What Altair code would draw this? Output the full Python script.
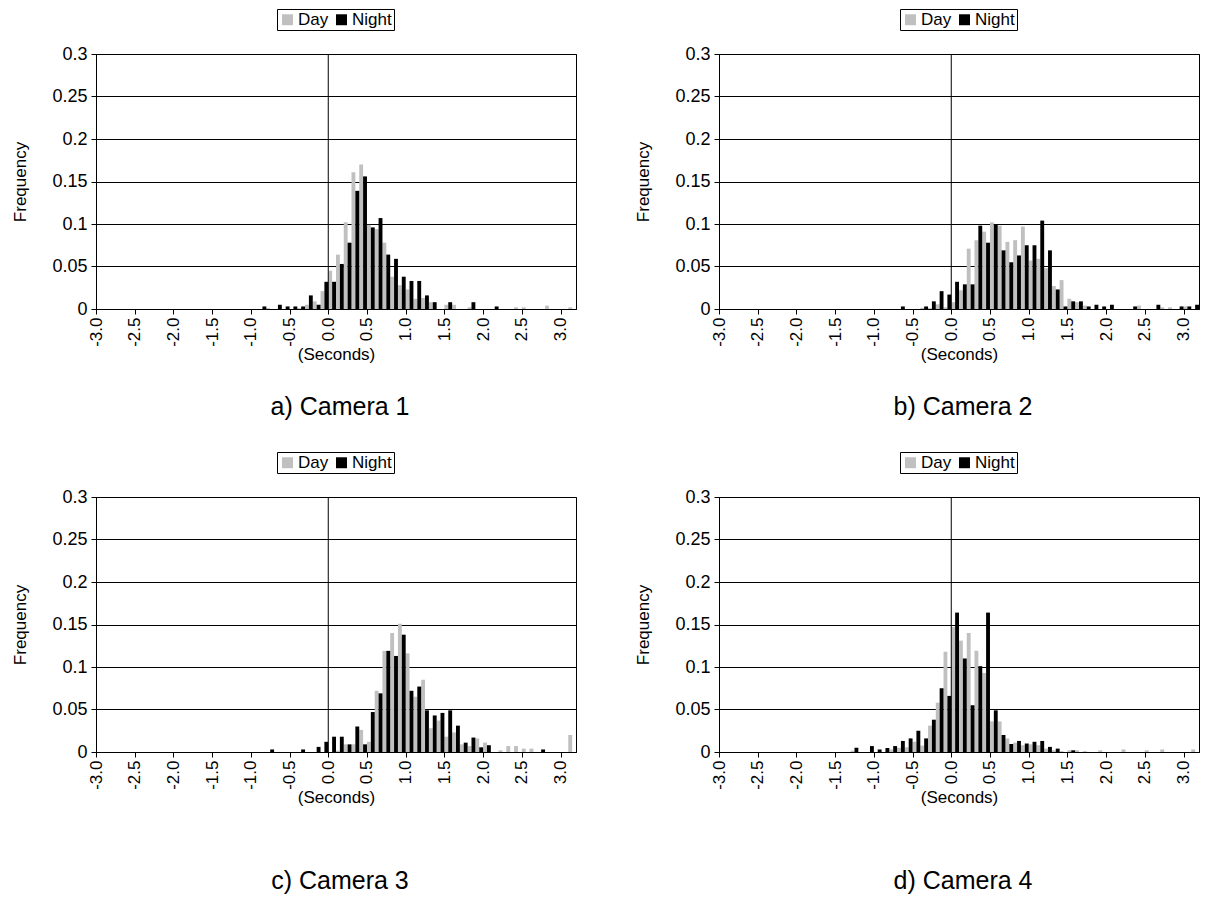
import altair as alt
import pandas as pd

FONT = "Liberation Sans"

# Bin starts (seconds), one bin per 0.1 s
BIN_STARTS = [-3.0, -2.9, -2.8, -2.7, -2.6, -2.5, -2.4, -2.3, -2.2, -2.1,
              -2.0, -1.9, -1.8, -1.7, -1.6, -1.5, -1.4, -1.3, -1.2, -1.1,
              -1.0, -0.9, -0.8, -0.7, -0.6, -0.5, -0.4, -0.3, -0.2, -0.1,
              0.0, 0.1, 0.2, 0.3, 0.4, 0.5, 0.6, 0.7, 0.8, 0.9,
              1.0, 1.1, 1.2, 1.3, 1.4, 1.5, 1.6, 1.7, 1.8, 1.9,
              2.0, 2.1, 2.2, 2.3, 2.4, 2.5, 2.6, 2.7, 2.8, 2.9,
              3.0, 3.1]

X_TICKS = [-3.0, -2.5, -2.0, -1.5, -1.0, -0.5, 0.0, 0.5, 1.0, 1.5, 2.0, 2.5, 3.0]
Y_TICKS = [0, 0.05, 0.1, 0.15, 0.2, 0.25, 0.3]
ZERO_LINE = [0.0]
SERIES = ["Day", "Night"]
SERIES_COLORS = ["#c0c0c0", "#000000"]

# Camera 1
CAM1_DAY = [0, 0, 0, 0, 0, 0, 0, 0, 0, 0,
            0, 0, 0, 0, 0, 0, 0, 0, 0, 0,
            0, 0, 0.001, 0, 0, 0, 0.001, 0.005, 0.009, 0.021,
            0.045, 0.064, 0.102, 0.161, 0.170, 0.099, 0.094, 0.078, 0.038, 0.028,
            0.023, 0.012, 0.013, 0.008, 0, 0.005, 0.005, 0, 0.002, 0,
            0, 0, 0, 0, 0.002, 0.002, 0, 0, 0.004, 0,
            0, 0.002]
CAM1_NIGHT = [0, 0, 0, 0, 0, 0, 0, 0, 0, 0,
              0, 0, 0, 0, 0, 0, 0, 0, 0, 0,
              0, 0.003, 0, 0.005, 0.003, 0.003, 0.003, 0.016, 0.005, 0.032,
              0.032, 0.053, 0.078, 0.139, 0.156, 0.096, 0.107, 0.064, 0.059, 0.038,
              0.033, 0.033, 0.016, 0.008, 0, 0.008, 0, 0, 0.008, 0,
              0, 0.003, 0, 0, 0, 0, 0, 0, 0, 0,
              0, 0]

# Camera 2
CAM2_DAY = [0, 0, 0, 0, 0, 0, 0, 0, 0, 0,
            0, 0, 0, 0, 0, 0, 0, 0, 0, 0,
            0, 0, 0, 0, 0, 0, 0.0015, 0.001, 0.0055, 0.002,
            0.008, 0.022, 0.071, 0.081, 0.091, 0.102, 0.098, 0.079, 0.081, 0.097,
            0.057, 0.059, 0.048, 0.027, 0.034, 0.012, 0.008, 0.004, 0, 0,
            0, 0, 0, 0, 0.004, 0, 0, 0.002, 0.002, 0,
            0.003, 0]
CAM2_NIGHT = [0, 0, 0, 0, 0, 0, 0, 0, 0, 0,
              0, 0, 0, 0, 0, 0, 0, 0, 0, 0,
              0, 0, 0, 0.003, 0, 0, 0.003, 0.009, 0.021, 0.017,
              0.032, 0.029, 0.029, 0.098, 0.078, 0.100, 0.069, 0.055, 0.063, 0.075,
              0.075, 0.104, 0.069, 0.023, 0.003, 0.009, 0.009, 0.003, 0.005, 0.003,
              0.005, 0, 0, 0.003, 0, 0, 0.005, 0, 0, 0.003,
              0.003, 0.005]

# Camera 3
CAM3_DAY = [0, 0, 0, 0, 0, 0, 0, 0, 0, 0,
            0, 0, 0, 0, 0, 0, 0, 0, 0, 0,
            0, 0, 0, 0, 0, 0, 0, 0, 0, 0,
            0, 0.0016, 0.009, 0.009, 0.026, 0.012, 0.072, 0.119, 0.140, 0.151,
            0.116, 0.065, 0.085, 0.028, 0.037, 0.018, 0.023, 0.009, 0.007, 0.016,
            0.011, 0, 0.002, 0.007, 0.007, 0.004, 0.004, 0, 0, 0,
            0, 0.020]
CAM3_NIGHT = [0, 0, 0, 0, 0, 0, 0, 0, 0, 0,
              0, 0, 0, 0, 0, 0, 0, 0, 0, 0,
              0, 0, 0.003, 0, 0, 0, 0.003, 0, 0.006, 0.012,
              0.018, 0.018, 0.009, 0.030, 0.009, 0.047, 0.069, 0.119, 0.113, 0.138,
              0.072, 0.077, 0.049, 0.043, 0.046, 0.049, 0.031, 0.011, 0.017, 0.0055,
              0.008, 0, 0, 0, 0, 0, 0, 0.003, 0, 0,
              0, 0]

# Camera 4
CAM4_DAY = [0, 0, 0, 0, 0, 0, 0, 0, 0, 0,
            0, 0, 0, 0, 0, 0, 0, 0.0015, 0, 0,
            0, 0, 0.003, 0.005, 0.0055, 0.012, 0.0075, 0.031, 0.058, 0.118,
            0.147, 0.131, 0.140, 0.119, 0.093, 0.036, 0.036, 0.016, 0.011, 0.008,
            0.009, 0.008, 0.004, 0.002, 0.001, 0.002, 0.002, 0.001, 0, 0.002,
            0, 0, 0.003, 0, 0, 0.002, 0, 0.003, 0, 0,
            0, 0.003]
CAM4_NIGHT = [0, 0, 0, 0, 0, 0, 0, 0, 0, 0,
              0, 0, 0, 0, 0, 0, 0, 0.005, 0, 0.007,
              0.003, 0.0047, 0.007, 0.013, 0.016, 0.025, 0.016, 0.038, 0.075, 0.066,
              0.164, 0.110, 0.055, 0.101, 0.164, 0.049, 0.020, 0.0094, 0.013, 0.010,
              0.012, 0.013, 0.006, 0.004, 0, 0.002, 0, 0, 0, 0,
              0, 0, 0, 0, 0, 0, 0, 0, 0, 0,
              0, 0]

PANELS = [
    ("a) Camera 1", CAM1_DAY, CAM1_NIGHT),
    ("b) Camera 2", CAM2_DAY, CAM2_NIGHT),
    ("c) Camera 3", CAM3_DAY, CAM3_NIGHT),
    ("d) Camera 4", CAM4_DAY, CAM4_NIGHT),
]

X_SCALE = alt.Scale(domain=[-3.0, 3.2], nice=False, zero=False)
Y_SCALE = alt.Scale(domain=[0, 0.3], nice=False)

X_AXIS = alt.Axis(
    values=X_TICKS, grid=False, title="(Seconds)",
    labelExpr="replace(format(datum.value, '.1f'), '\u2212', '-')",
    labelAngle=-90, labelFontSize=17, titleFontSize=17,
    labelOverlap=False, labelSeparation=0, labelBound=False, labelFlush=False,
    tickSize=5, labelPadding=3, titlePadding=0)
Y_AXIS = alt.Axis(
    values=Y_TICKS, format="~g", grid=True, title="Frequency",
    labelFontSize=18, titleFontSize=17, tickSize=5, labelOverlap=False,
    labelPadding=4, titlePadding=22)


def panel(title, day, night, title_offset):
    df = pd.DataFrame({
        "start": BIN_STARTS + BIN_STARTS,
        "series": ["Day"] * len(BIN_STARTS) + ["Night"] * len(BIN_STARTS),
        "value": day + night,
    })
    bars = alt.Chart(df).transform_calculate(
        x0="datum.start + (datum.series == 'Night' ? 0.05 : 0)",
        x1="datum.start + (datum.series == 'Night' ? 0.1 : 0.05)",
    ).mark_rect().encode(
        x=alt.X("x0:Q", scale=X_SCALE, axis=X_AXIS),
        x2="x1:Q",
        y=alt.Y("value:Q", scale=Y_SCALE, axis=Y_AXIS),
        y2=alt.datum(0),
        color=alt.Color("series:N", scale=alt.Scale(domain=SERIES, range=SERIES_COLORS),
                        legend=alt.Legend(
                            orient="none", legendX=181, legendY=-45,
                            direction="horizontal", title=None,
                            strokeColor="black", fillColor="white", padding=2,
                            symbolType="square", symbolSize=120, symbolStrokeWidth=0,
                            labelFontSize=17, labelFont=FONT, labelOffset=2,
                            columnPadding=4)),
    )
    zero = alt.Chart(pd.DataFrame({"zero": ZERO_LINE})).mark_rule(
        color="black", strokeWidth=1
    ).encode(
        x=alt.X("zero:Q", scale=X_SCALE, axis=X_AXIS)
    )
    return alt.layer(bars, zero).properties(
        width=480, height=255,
        title=alt.TitleParams(title, orient="bottom", anchor="middle", frame="group",
                              fontSize=25, fontWeight="normal", font=FONT, dx=4,
                              color="black", offset=title_offset),
    )


p1 = panel(PANELS[0][0], PANELS[0][1], PANELS[0][2], 33)
p2 = panel(PANELS[1][0], PANELS[1][1], PANELS[1][2], 33)
p3 = panel(PANELS[2][0], PANELS[2][1], PANELS[2][2], 64)
p4 = panel(PANELS[3][0], PANELS[3][1], PANELS[3][2], 64)

row1 = alt.hconcat(p1, p2, spacing=57).resolve_scale(color="independent").resolve_legend(color="independent")
row2 = alt.hconcat(p3, p4, spacing=57).resolve_scale(color="independent").resolve_legend(color="independent")

chart = alt.vconcat(row1, row2, spacing=30).resolve_scale(
    color="independent").resolve_legend(color="independent").properties(
    padding={"left": 3, "top": 0, "right": 5, "bottom": 5}
).configure_view(
    stroke="black", strokeWidth=1
).configure_axis(
    labelFont=FONT, titleFont=FONT, labelColor="black", titleColor="black",
    domainColor="black", tickColor="black", gridColor="black",
    titleFontWeight="normal", domainWidth=1, gridWidth=1
).configure_axisX(
    labelOverlap=False
).configure_concat(spacing=0)

chart.save("out.html", embed_options={"renderer": "svg", "actions": False})
